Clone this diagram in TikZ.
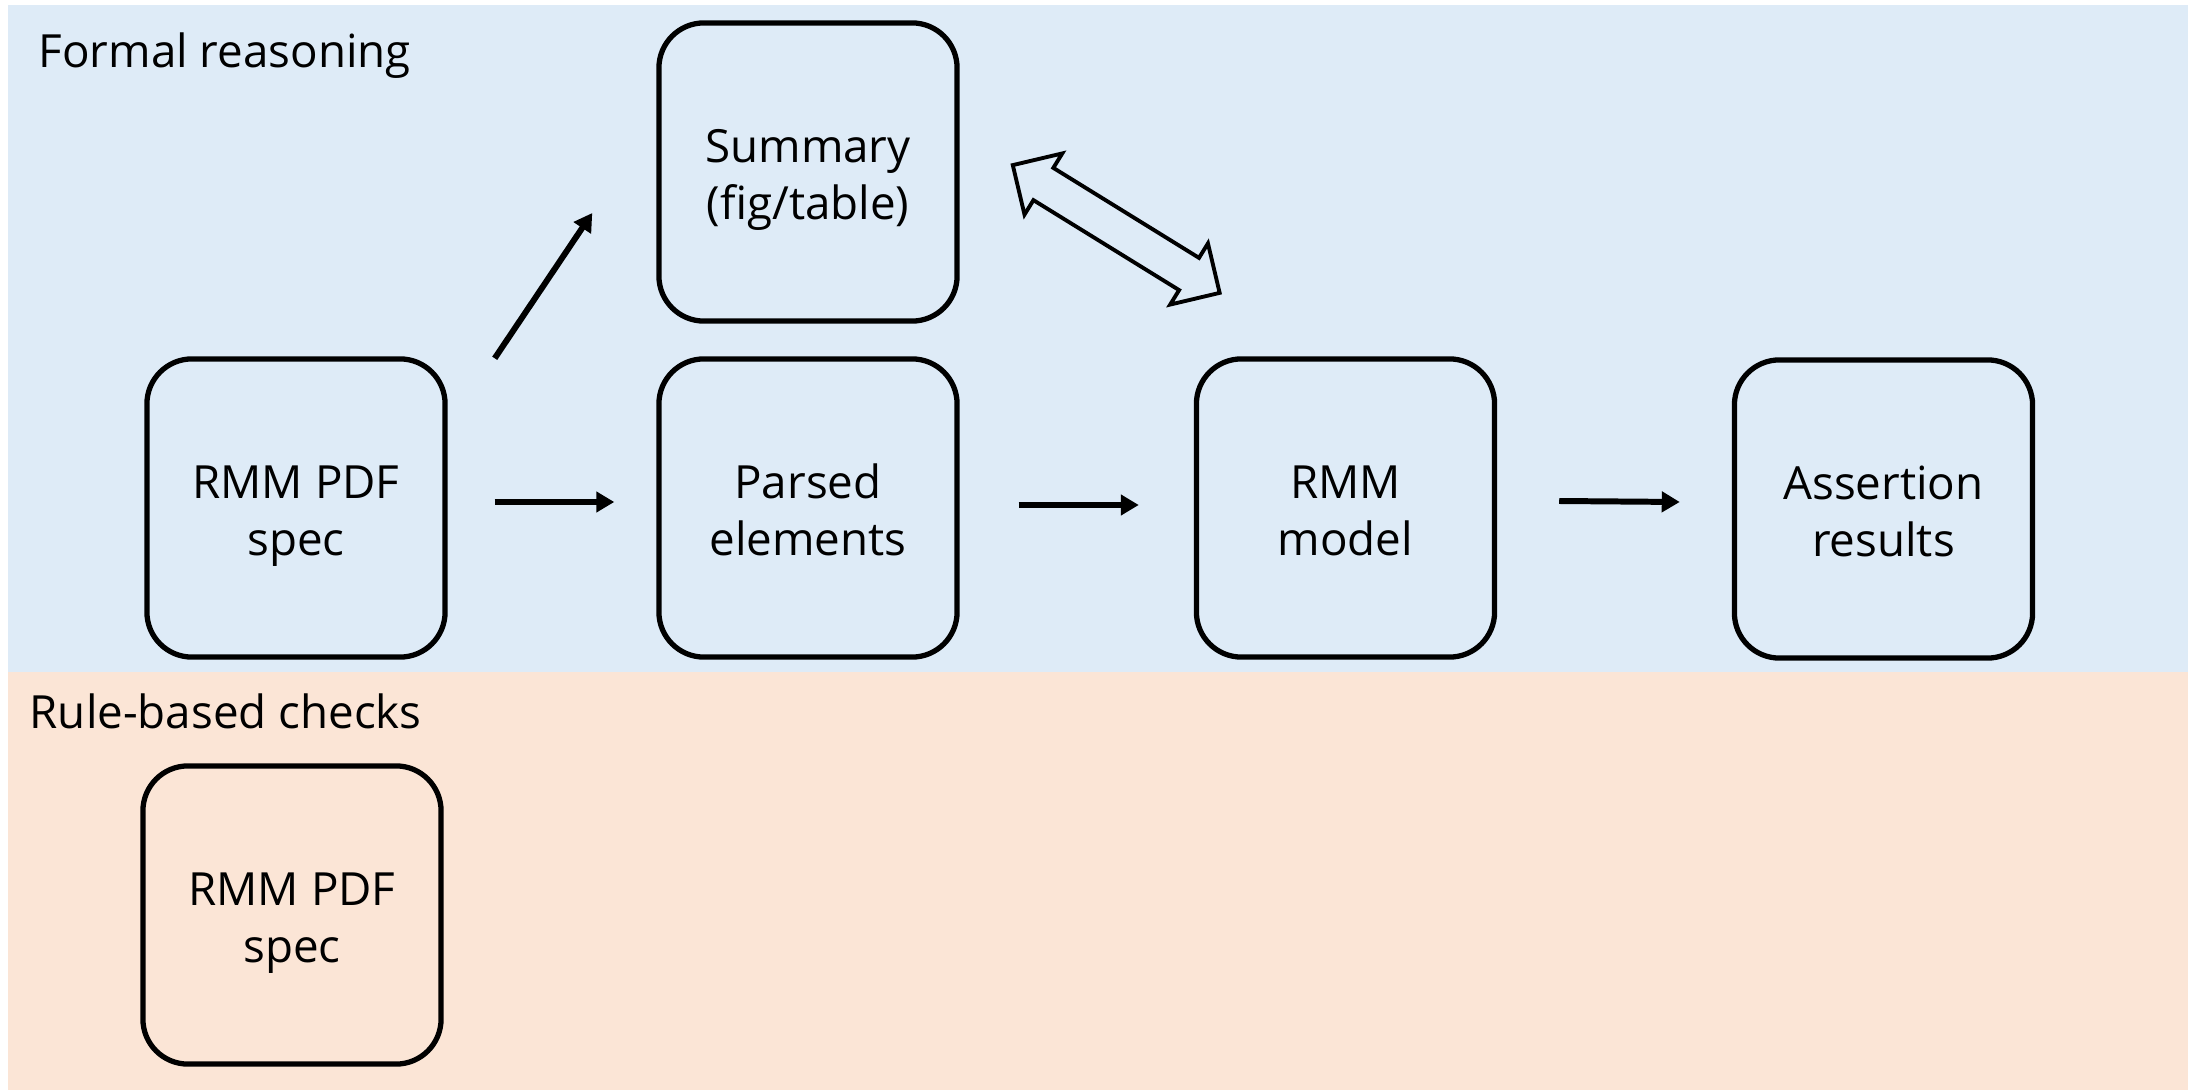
\documentclass[tikz,border=0pt]{standalone}
\usepackage{fontspec}
\setmainfont{Open Sans}
\usetikzlibrary{calc,arrows.meta,shapes.arrows}
\definecolor{formalbg}{HTML}{DEEBF7}
\definecolor{rulebg}{HTML}{FBE5D6}
\tikzset{
	stage/.style={draw, line width=1.5pt, rounded corners=0.45cm, minimum width=2.98cm, minimum height=2.98cm, align=center, font=\fontsize{13}{16}\selectfont,
		text height=0.98cm, text depth=0.04cm},
	flow/.style={line width=1.7pt, -{Triangle[length=0.18cm,width=0.2cm]}},
	lane/.style={font=\fontsize{13}{16}\selectfont, inner sep=0pt, anchor=base west},
	sync/.style={double arrow, draw, line width=1.1pt, minimum height=2.43cm, inner xsep=0pt, inner ysep=0.17cm, double arrow head extend=0.17cm, rotate=-31.7}
}

\begin{document}
\begin{tikzpicture}[x=0.01cm, y=-0.01cm]
	%%%%% START %%%%%
	\useasboundingbox (0, 0) rectangle (2193, 1091);
	
	\fill[formalbg] (8, 5) rectangle (2188, 672);
	\fill[rulebg] (8, 672) rectangle (2188, 1090);
	
	\node[lane] (formal) at (38, 68) {Formal reasoning};
	\node[lane] (rules) at (29, 728) {Rule-based checks};
	
	\node[stage] (spec) at (296, 508) {RMM PDF\\spec};
	\node[stage] (summary) at (808, 172) {Summary\\(fig/table)};
	\node[stage] (parsed) at (808, 508) {Parsed\\elements};
	\node[stage] (model) at (1345.5, 508) {RMM\\model};
	\node[stage] (results) at (1883.5, 509) {Assertion\\results};
	
	\node[stage] (rulespec) at (292, 915) {RMM PDF\\spec};
	
	\draw[flow] ($(spec.north east)+(47,2)$) -- ($(summary.west)+(-64,41)$);
	\draw[flow] ($(spec.east)+(47,-6)$) -- ($(parsed.west)+(-42,-6)$);
	\draw[flow] ($(parsed.east)+(59,-3)$) -- ($(model.west)+(-55,-3)$);
	\draw[flow] ($(model.east)+(62,-7)$) -- ($(results.west)+(-52,-7)$);
	
	\node[sync] (sync) at ($(summary.east)+(156.5,57)$) {};
	
	%%%%% END %%%%%
\end{tikzpicture}
\end{document}
